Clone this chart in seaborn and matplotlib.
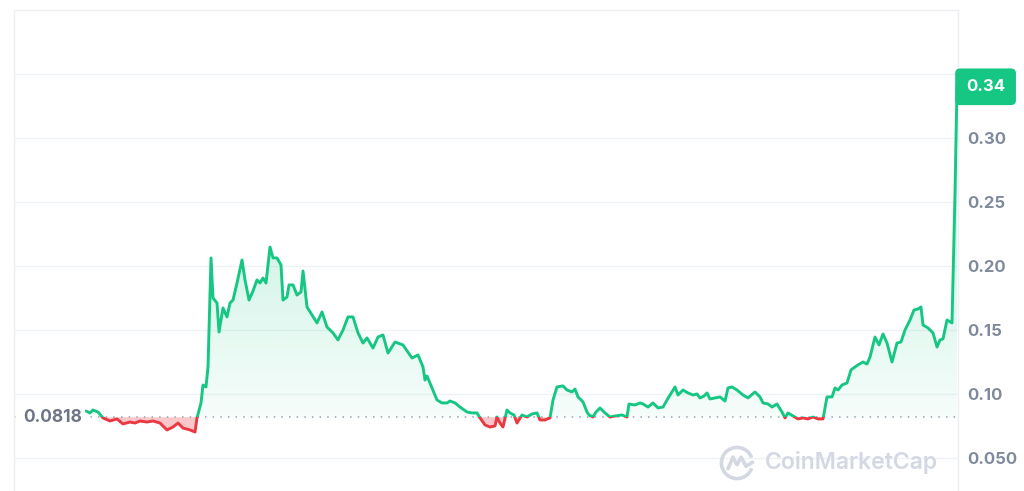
import numpy as np
import pandas as pd
import seaborn as sns
import matplotlib.pyplot as plt
from matplotlib.patches import Rectangle, PathPatch, Arc
from matplotlib.path import Path

# datos (precio por paso de tiempo)
hour = [0, 4, 7, 12, 17, 24, 31, 37, 44, 49, 54, 61, 67, 74, 81, 87, 92, 97, 104, 109,
        111, 115, 117, 120, 122, 125, 127, 131, 133, 137, 141, 144, 147, 151, 156, 159,
        163, 167, 171, 174, 177, 180, 184, 187, 191, 195, 197, 201, 203, 207, 211, 215,
        217, 221, 226, 231, 236, 241, 247, 252, 257, 262, 267, 272, 277, 281, 287, 292,
        297, 302, 309, 317, 326, 332, 337, 339, 341, 346, 351, 356, 361, 364, 369, 374,
        381, 386, 391, 394, 399, 404, 409, 411, 414, 417, 421, 424, 428, 431, 436, 441,
        446, 451, 454, 459, 464, 467, 471, 477, 481, 486, 489, 492, 497, 501, 503, 507,
        510, 514, 519, 524, 529, 536, 541, 543, 549, 554, 557, 562, 567, 572, 577, 581,
        586, 589, 592, 597, 602, 607, 611, 614, 618, 621, 624, 629, 634, 639, 642, 646,
        651, 657, 662, 669, 674, 677, 682, 686, 691, 696, 699, 702, 707, 712, 717, 722,
        727, 732, 737, 741, 746, 749, 752, 756, 761, 765, 769, 772, 777, 781, 784, 789,
        793, 797, 801, 806, 811, 815, 819, 824, 828, 832, 835, 837, 842, 847, 851, 854,
        857, 861, 866, 869, 871]
price = [0.0867, 0.0852, 0.0875, 0.0859, 0.0813, 0.0789, 0.0805, 0.0766, 0.0781, 0.0773,
         0.0789, 0.0781, 0.0789, 0.0773, 0.0719, 0.0742, 0.0773, 0.0734, 0.0719, 0.0703,
         0.0813, 0.0930, 0.1070, 0.1055, 0.1211, 0.2063, 0.1750, 0.1711, 0.1484, 0.1672,
         0.1602, 0.1711, 0.1734, 0.1867, 0.2047, 0.1891, 0.1734, 0.1805, 0.1891, 0.1867,
         0.1906, 0.1867, 0.2148, 0.2063, 0.2063, 0.2008, 0.1734, 0.1758, 0.1852, 0.1852,
         0.1773, 0.1797, 0.1961, 0.1680, 0.1617, 0.1555, 0.1641, 0.1523, 0.1477, 0.1422,
         0.1500, 0.1602, 0.1602, 0.1477, 0.1398, 0.1438, 0.1359, 0.1445, 0.1461, 0.1320,
         0.1406, 0.1383, 0.1281, 0.1305, 0.1211, 0.1109, 0.1141, 0.1047, 0.0953, 0.0930,
         0.0930, 0.0945, 0.0930, 0.0898, 0.0859, 0.0852, 0.0852, 0.0813, 0.0758, 0.0742,
         0.0750, 0.0820, 0.0773, 0.0742, 0.0875, 0.0852, 0.0836, 0.0773, 0.0836, 0.0820,
         0.0844, 0.0852, 0.0797, 0.0797, 0.0813, 0.0953, 0.1055, 0.1063, 0.1031, 0.1016,
         0.1039, 0.0977, 0.0938, 0.0859, 0.0836, 0.0820, 0.0859, 0.0891, 0.0852, 0.0820,
         0.0828, 0.0836, 0.0820, 0.0922, 0.0914, 0.0930, 0.0922, 0.0898, 0.0930, 0.0891,
         0.0898, 0.0953, 0.1016, 0.1055, 0.0992, 0.1031, 0.1008, 0.0992, 0.1000, 0.0969,
         0.0984, 0.1008, 0.0961, 0.0969, 0.0977, 0.0945, 0.1047, 0.1055, 0.1031, 0.0992,
         0.0969, 0.1016, 0.0977, 0.0930, 0.0922, 0.0898, 0.0922, 0.0859, 0.0813, 0.0852,
         0.0828, 0.0805, 0.0813, 0.0805, 0.0820, 0.0805, 0.0805, 0.0977, 0.0977, 0.1047,
         0.1031, 0.1070, 0.1086, 0.1188, 0.1211, 0.1227, 0.1250, 0.1234, 0.1289, 0.1445,
         0.1383, 0.1469, 0.1398, 0.1250, 0.1398, 0.1406, 0.1500, 0.1578, 0.1656, 0.1664,
         0.1680, 0.1539, 0.1516, 0.1477, 0.1367, 0.1422, 0.1430, 0.1578, 0.1555, 0.2570,
         0.3400]

base_price = 0.0818
last_price = 0.34
ytick_vals = [0.05, 0.10, 0.15, 0.20, 0.25, 0.30, 0.35]
ytick_labels = ["0.050", "0.10", "0.15", "0.20", "0.25", "0.30", ""]

GREEN = "#16c784"
RED = "#ea3943"
GRID = "#eff2f5"
TXT = "#808a9d"

df = pd.DataFrame({"hour": hour, "price": price})

sns.set_style("white")
plt.rcParams["font.family"] = ["Inter", "DejaVu Sans"]

fig = plt.figure(figsize=(10.24, 4.91), dpi=100)
ax = fig.add_axes([14 / 1024, 0, 944 / 1024, 481 / 491])
x0, x1 = -72, 872
y0, y1 = 0.0242, 0.40
ax.set_xlim(x0, x1)
ax.set_ylim(y0, y1)

# rejilla
for v in ytick_vals:
    ax.axhline(v, color=GRID, lw=1, zorder=0)

# relleno verde con degradado
t = np.array(hour, dtype=float)
p = np.array(price)
poly = ax.fill_between(t, p, base_price, where=p >= base_price, interpolate=True,
                       facecolor="none", edgecolor="none")
clip = PathPatch(Path.make_compound_path(*poly.get_paths()), transform=ax.transData,
                 facecolor="none", edgecolor="none")
ax.add_patch(clip)
grad = np.zeros((256, 1, 4))
grad[:, 0, :3] = np.array([22, 199, 132]) / 255
grad[:, 0, 3] = np.linspace(0.04, 0.32, 256)
img = ax.imshow(grad, extent=[x0, x1, base_price, last_price], origin="lower",
                aspect="auto", zorder=1)
img.set_clip_path(clip)

# relleno rojo
ax.fill_between(t, p, base_price, where=p <= base_price, interpolate=True,
                facecolor=RED, alpha=0.28, edgecolor="none", zorder=1)

# linea base punteada
ax.axhline(base_price, color="#9aa1b0", lw=1.1, ls=(0, (1, 4)), zorder=2)

# linea de precio: verde arriba, roja abajo
sns.lineplot(data=df, x="hour", y="price", ax=ax, color=GREEN, lw=2.1, zorder=3)
ln_g = ax.lines[-1]
ln_g.set_clip_path(Rectangle((x0, base_price), x1 - x0, y1 - base_price,
                             transform=ax.transData))
sns.lineplot(data=df, x="hour", y="price", ax=ax, color=RED, lw=2.1, zorder=3)
ln_r = ax.lines[-1]
ln_r.set_clip_path(Rectangle((x0, y0), x1 - x0, base_price - y0,
                             transform=ax.transData))

# ejes
ax.set_xlabel("")
ax.set_ylabel("")
ax.set_xticks([])
ax.yaxis.tick_right()
ax.set_yticks(ytick_vals)
ax.set_yticklabels(ytick_labels)
ax.tick_params(axis="y", length=0, pad=7, labelsize=12, labelcolor=TXT)
for lb in ax.get_yticklabels():
    lb.set_fontweight("bold")
for s in ["left", "right", "top"]:
    ax.spines[s].set_color("#eceff3")
    ax.spines[s].set_linewidth(1)
ax.spines["bottom"].set_visible(False)

# etiqueta del precio actual
ax.annotate(f"{last_price:.2f}", xy=(1, last_price),
            xycoords=("axes fraction", "data"), xytext=(8, 0),
            textcoords="offset pixels", ha="left", va="center",
            color="white", fontsize=12, fontweight="bold",
            bbox=dict(boxstyle="round,pad=0.65,rounding_size=0.3", fc=GREEN, ec="none"),
            annotation_clip=False, zorder=10)

# etiqueta de la linea base
ax.text(-63, base_price, f"{base_price:.4f}", ha="left", va="center",
        color="#6e7587", fontsize=12.5, fontweight="bold", zorder=5,
        bbox=dict(boxstyle="square,pad=0.2", fc="white", ec="none"))

# marca de agua
fig.text(765 / 1024, (491 - 463) / 491, "CoinMarketCap", ha="left", va="center",
         color="#d3d8e2", fontsize=16.5, fontweight="semibold", zorder=0)
lax = fig.add_axes([(737 - 18) / 1024, (491 - 463 - 18) / 491, 36 / 1024, 36 / 491])
lax.set_xlim(-1.1, 1.1)
lax.set_ylim(-1.1, 1.1)
lax.set_aspect("equal")
lax.axis("off")
lax.add_patch(Arc((0, 0), 1.9, 1.9, theta1=20, theta2=340, color="#d3d8e2", lw=2.6))
lax.plot([-0.55, -0.25, 0.0, 0.25, 0.55, 0.95], [-0.35, 0.35, -0.1, 0.35, -0.2, 0.05],
         color="#d3d8e2", lw=2.6, solid_capstyle="round")

fig.savefig("out.png", dpi=100, facecolor="white")
